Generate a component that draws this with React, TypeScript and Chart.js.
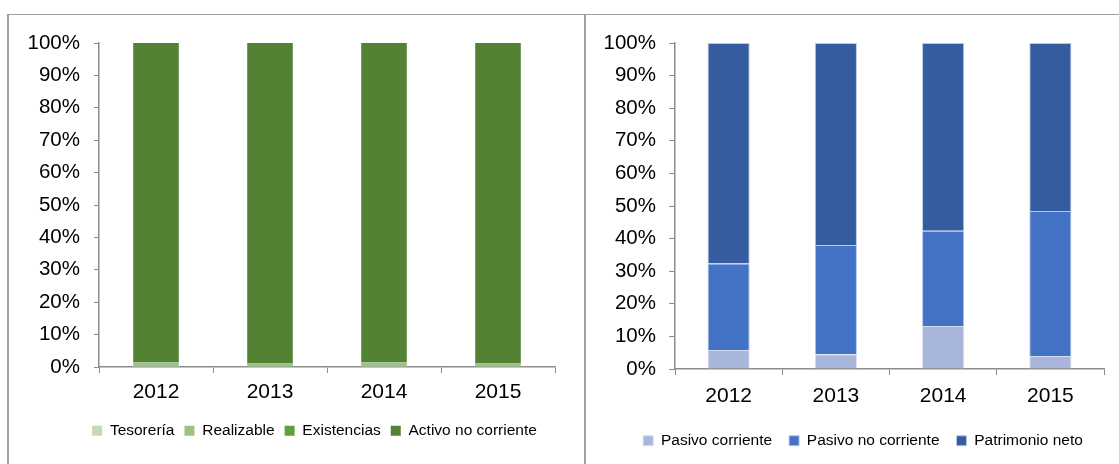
import React, { useEffect, useRef } from "react";
import { Chart, registerables } from "chart.js";

Chart.register(...registerables);

const years = ["2012", "2013", "2014", "2015"];

const tesoreria = [0.3, 0.2, 0.3, 0.2];
const realizable = [1.2, 1.0, 1.2, 1.0];
const existencias = [0, 0, 0, 0];
const activoNoCorriente = [98.5, 98.8, 98.5, 98.8];

const pasivoCorriente = [5.8, 4.5, 13.2, 4.0];
const pasivoNoCorriente = [26.6, 33.5, 29.2, 44.5];
const patrimonioNeto = [67.6, 62.0, 57.6, 51.5];

const yMax = 100;
const yStep = 10;

const FONT = "'Liberation Sans', Arial, sans-serif";
const AXIS = "#8C8C8C";

type Props = {
  left: number;
  width: number;
  datasets: any[];
  pad: { left: number; right: number; top: number; bottom: number };
  yWidth: number;
  xHeight: number;
  yPad: number;
  yTick: number;
  xPad: number;
  barPct: number;
  legendPad: number;
};

function StackChart(p: Props) {
  const ref = useRef<HTMLCanvasElement | null>(null);
  useEffect(() => {
    if (!ref.current) return;
    const chart = new Chart(ref.current, {
      type: "bar",
      data: { labels: years, datasets: p.datasets },
      options: {
        animation: false,
        responsive: false,
        maintainAspectRatio: false,
        datasets: { bar: { barPercentage: p.barPct, categoryPercentage: 1 } },
        layout: { padding: p.pad },
        plugins: {
          tooltip: { enabled: false },
          legend: {
            position: "bottom",
            labels: {
              boxWidth: 10,
              boxHeight: 10,
              padding: p.legendPad,
              color: "#000",
              font: { family: FONT, size: 15.5 },
            },
          },
        },
        scales: {
          x: {
            stacked: true,
            afterFit: (s: any) => {
              s.height = p.xHeight;
            },
            grid: {
              drawOnChartArea: false,
              drawTicks: true,
              tickLength: 6,
              color: AXIS,
              offset: true,
            },
            border: { display: true, color: AXIS, width: 1.5 },
            ticks: {
              color: "#000",
              padding: p.xPad,
              font: { family: FONT, size: 21 },
            },
          },
          y: {
            stacked: true,
            min: 0,
            max: yMax,
            afterFit: (s: any) => {
              s.width = p.yWidth;
              s._computeLabelArea = () => undefined;
            },
            grid: {
              drawOnChartArea: false,
              drawTicks: true,
              tickLength: p.yTick,
              color: AXIS,
            },
            border: { display: true, color: AXIS, width: 1.5 },
            ticks: {
              stepSize: yStep,
              color: "#000",
              padding: p.yPad,
              font: { family: FONT, size: 20.5 },
              callback: (v: any) => v + "%",
            },
          },
        },
      },
    });
    return () => chart.destroy();
  }, []);
  return (
    <canvas
      ref={ref}
      width={p.width}
      height={450}
      style={{ position: "absolute", left: p.left, top: 14, width: p.width, height: 450 }}
    />
  );
}

export default function App() {
  const leftSets = [
    { label: "Tesorería", data: tesoreria, backgroundColor: "#C3DAB4", borderWidth: 0 },
    { label: "Realizable", data: realizable, backgroundColor: "#9DC383", borderWidth: 0 },
    { label: "Existencias", data: existencias, backgroundColor: "#63A03C", borderWidth: 0 },
    { label: "Activo no corriente", data: activoNoCorriente, backgroundColor: "#548235", borderWidth: 0 },
  ];
  const rightSets = [
    { label: "Pasivo corriente", data: pasivoCorriente, backgroundColor: "#A8B6DB", borderColor: "#D5DDF0", borderWidth: 1 },
    { label: "Pasivo no corriente", data: pasivoNoCorriente, backgroundColor: "#4472C4", borderColor: "#B8C9EA", borderWidth: 1 },
    { label: "Patrimonio neto", data: patrimonioNeto, backgroundColor: "#345C9F", borderColor: "#B8C9EA", borderWidth: 1 },
  ];
  return (
    <div
      style={{
        position: "fixed",
        left: 0,
        top: 0,
        width: 1119,
        height: 464,
        overflow: "hidden",
        background: "#fff",
      }}
    >
      <div
        style={{
          position: "absolute",
          left: 7,
          top: 14,
          width: 1200,
          height: 460,
          borderTop: "1px solid #A0A0A0",
          borderLeft: "2px solid #A0A0A0",
        }}
      />
      <div
        style={{
          position: "absolute",
          left: 584,
          top: 14,
          width: 2,
          height: 460,
          background: "#A0A0A0",
        }}
      />
      <StackChart
        left={8}
        width={577}
        datasets={leftSets}
        pad={{ left: 66, right: 30, top: 29, bottom: 15.5 }}
        yWidth={25}
        xHeight={46}
        yPad={14}
        yTick={5}
        xPad={7}
        barPct={0.4}
        legendPad={10}
      />
      <StackChart
        left={586}
        width={533}
        datasets={rightSets}
        pad={{ left: 36, right: 15, top: 29, bottom: 5.5 }}
        yWidth={53}
        xHeight={47}
        yPad={13}
        yTick={6}
        xPad={9}
        barPct={0.393}
        legendPad={17}
      />
    </div>
  );
}
